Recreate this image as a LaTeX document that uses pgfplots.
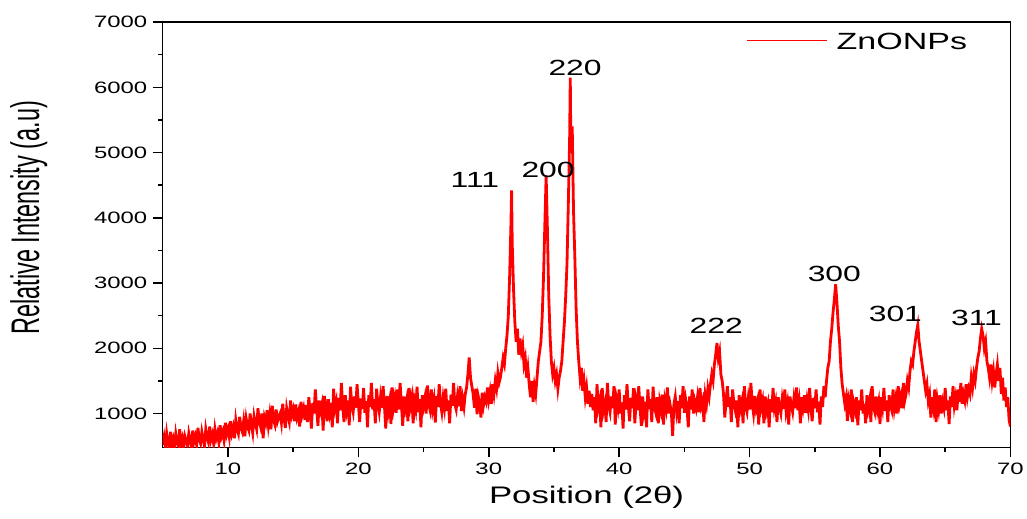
\documentclass[border=0pt]{standalone}
\usepackage{fontspec}
\setmainfont[FakeStretch=1.45]{Liberation Sans}
\newfontfamily\plainsans{Liberation Sans}
\usepackage{pgfplots}
\pgfplotsset{compat=1.18}

\begin{document}
\begin{tikzpicture}
\begin{axis}[
  width=849pt, height=426pt, scale only axis,
  xmin=5, xmax=70, ymin=480, ymax=7000,
  xtick={10,20,...,70}, ytick={1000,2000,...,7000},
  minor x tick num=1, minor y tick num=1,
  tick pos=left, tick align=outside,
  major tick length=10pt, minor tick length=5pt,
  axis line style={line width=1.5pt},
  every tick/.style={black, line width=1.5pt},
  /pgf/number format/assume math mode=true,
  /pgf/number format/1000 sep={},
  tick label style={font=\fontsize{16.5}{18}\selectfont},
  xticklabel style={yshift=-2pt},
  yticklabel style={xshift=-2pt},
  xlabel={Position (2θ)},
  xlabel style={at={(axis description cs:0.5,-0.118)}, anchor=center, font=\fontsize{24}{26}\selectfont},
  ylabel={\scalebox{1}[1.7]{Relative Intensity (a.u)}},
  ylabel style={at={(axis description cs:-0.158,0.54)}, anchor=center, font=\plainsans\fontsize{23.5}{25}\selectfont},
  legend style={at={(axis description cs:0.955,0.985)}, anchor=north east, draw=none, fill=none,
    font=\fontsize{23.5}{26}\selectfont},
  legend image code/.code={},
]
\addplot[red, line width=2.8pt]
coordinates {
(5.0,520) (5.1,640) (5.2,480) (5.3,700) (5.4,560) (5.5,450) (5.6,720) (5.7,530) (5.8,610) (5.9,470)
(6.0,690) (6.1,560) (6.2,500) (6.3,760) (6.4,540) (6.5,620) (6.6,460) (6.7,650) (6.8,580) (6.9,510)
(7.0,700) (7.1,600) (7.2,480) (7.3,740) (7.4,570) (7.5,650) (7.6,520) (7.7,780) (7.8,600) (7.9,540)
(8.0,720) (8.1,610) (8.2,500) (8.3,760) (8.4,640) (8.5,560) (8.6,800) (8.7,600) (8.8,680) (8.9,540)
(9.0,760) (9.1,620) (9.2,700) (9.3,560) (9.4,820) (9.5,650) (9.6,720) (9.7,590) (9.8,860) (9.9,680)
(10.0,760) (10.1,640) (10.2,880) (10.3,700) (10.4,790) (10.5,620) (10.6,900) (10.7,760) (10.8,690) (10.9,950)
(11.0,780) (11.1,720) (11.2,880) (11.3,650) (11.4,920) (11.5,800) (11.6,740) (11.7,1000) (11.8,820) (11.9,700)
(12.0,960) (12.1,850) (12.2,760) (12.3,1080) (12.4,880) (12.5,800) (12.6,1000) (12.7,620) (12.8,940) (12.9,860)
(13.0,1050) (13.1,820) (13.2,980) (13.3,760) (13.4,1120) (13.5,900) (13.6,830) (13.7,1060) (13.8,880) (13.9,950)
(14.0,1000) (14.1,860) (14.2,1150) (14.3,930) (14.4,780) (14.5,1080) (14.6,960) (14.7,870) (14.8,1200) (14.9,980)
(15.0,1060) (15.1,880) (15.2,1140) (15.3,940) (15.4,1020) (15.5,800) (15.6,1180) (15.7,990) (15.8,1080) (15.9,900)
(16.0,1130) (16.1,870) (16.2,1250) (16.3,1040) (16.4,770) (16.5,1160) (16.6,1000) (16.7,1370) (16.8,1080) (16.9,810)
(17.0,1200) (17.1,1050) (17.2,1140) (17.3,740) (17.4,1270) (17.5,1100) (17.6,880) (17.7,1220) (17.8,1020) (17.9,1160)
(18.0,790) (18.1,1380) (18.2,1080) (18.3,1180) (18.4,850) (18.5,1240) (18.6,1050) (18.7,1470) (18.8,1110) (18.9,870)
(19.0,1280) (19.1,1060) (19.2,1200) (19.3,820) (19.4,1410) (19.5,1120) (19.6,1020) (19.7,1260) (19.8,1090) (19.9,1450)
(20.0,1150) (20.1,870) (20.2,1230) (20.3,1070) (20.4,1390) (20.5,1010) (20.6,1190) (20.7,790) (20.8,1280) (20.9,1100)
(21.0,1470) (21.1,1060) (21.2,1220) (21.3,850) (21.4,1380) (21.5,1140) (21.6,1020) (21.7,1250) (21.8,1090) (21.9,1420)
(22.0,1120) (22.1,770) (22.2,1270) (22.3,1040) (22.4,1180) (22.5,840) (22.6,1400) (22.7,1100) (22.8,1230) (22.9,1010)
(23.0,1370) (23.1,1060) (23.2,1470) (23.3,1150) (23.4,810) (23.5,1260) (23.6,1080) (23.7,1200) (23.8,880) (23.9,1390)
(24.0,1130) (24.1,1250) (24.2,850) (24.3,1190) (24.4,1070) (24.5,1410) (24.6,1020) (24.7,1220) (24.8,790) (24.9,1280)
(25.0,1110) (25.1,1230) (25.2,1000) (25.3,1430) (25.4,1140) (25.5,1050) (25.6,1370) (25.7,1080) (25.8,1210) (25.9,860)
(26.0,1270) (26.1,1100) (26.2,1450) (26.3,1150) (26.4,1020) (26.5,1240) (26.6,1090) (26.7,1380) (26.8,1040) (26.9,1200)
(27.0,850) (27.1,1290) (27.2,1120) (27.3,1470) (27.4,1140) (27.5,1060) (27.6,1260) (27.7,1110) (27.8,1420) (27.9,1040)
(28.0,1230) (28.1,1100) (28.2,1300) (28.3,1400) (28.4,1600) (28.5,1860) (28.6,1550) (28.7,1420) (28.8,1300) (28.9,1090)
(29.0,1380) (29.1,990) (29.2,1260) (29.3,1160) (29.4,940) (29.5,1320) (29.6,1130) (29.7,1250) (29.8,1180) (29.9,1400)
(30.0,1210) (30.1,1340) (30.2,1150) (30.3,1450) (30.4,1300) (30.5,1500) (30.6,1380) (30.7,1620) (30.8,1480) (30.9,1560)
(31.0,1700) (31.1,1850) (31.2,1760) (31.3,2000) (31.4,2200) (31.5,2500) (31.6,3100) (31.7,3900) (31.75,4420) (31.8,3600)
(31.9,2900) (32.0,2400) (32.1,2100) (32.2,2300) (32.3,1900) (32.4,2150) (32.5,1950) (32.6,2050) (32.7,1750) (32.8,1850)
(32.9,1550) (33.0,1700) (33.1,1450) (33.2,1250) (33.3,1500) (33.4,1180) (33.5,1420) (33.6,1300) (33.7,1550) (33.8,1800)
(33.9,1950) (34.0,2100) (34.1,2500) (34.2,3100) (34.3,3900) (34.4,4650) (34.5,3800) (34.6,2800) (34.7,2200) (34.8,1800)
(34.9,1600) (35.0,1700) (35.1,1500) (35.2,1600) (35.3,1380) (35.4,1550) (35.5,1650) (35.6,1800) (35.7,2100) (35.8,2400)
(35.9,2800) (36.0,3300) (36.1,4200) (36.2,5200) (36.25,6150) (36.3,5000) (36.4,5400) (36.5,4100) (36.6,3400) (36.7,2600)
(36.8,2100) (36.9,1800) (37.0,1550) (37.1,1700) (37.2,1350) (37.3,1500) (37.4,1250) (37.5,1400) (37.6,1150) (37.7,1350)
(37.8,1100) (37.9,1300) (38.0,1050) (38.1,1250) (38.2,850) (38.3,1450) (38.4,1100) (38.5,1200) (38.6,790) (38.7,1390)
(38.8,1050) (38.9,1150) (39.0,870) (39.1,1470) (39.2,1120) (39.3,1020) (39.4,1260) (39.5,1080) (39.6,1420) (39.7,830)
(39.8,1210) (39.9,1090) (40.0,1370) (40.1,1000) (40.2,1170) (40.3,770) (40.4,1280) (40.5,1060) (40.6,1450) (40.7,1120)
(40.8,880) (40.9,1240) (41.0,1080) (41.1,1390) (41.2,850) (41.3,1190) (41.4,1050) (41.5,1420) (41.6,1100) (41.7,810)
(41.8,1260) (41.9,1030) (42.0,1180) (42.1,790) (42.2,1370) (42.3,1070) (42.4,1220) (42.5,870) (42.6,1410) (42.7,1110)
(42.8,1020) (42.9,1250) (43.0,850) (43.1,1180) (43.2,1060) (43.3,1290) (43.4,830) (43.5,1200) (43.6,1080) (43.7,1400)
(43.8,1000) (43.9,1140) (44.0,1020) (44.1,660) (44.2,1150) (44.3,1260) (44.4,1030) (44.5,1190) (44.6,850) (44.7,1280)
(44.8,1080) (44.9,1420) (45.0,1010) (45.1,1220) (45.2,1100) (45.3,790) (45.4,1260) (45.5,1060) (45.6,1370) (45.7,1000)
(45.8,1180) (45.9,1080) (46.0,1240) (46.1,1020) (46.2,1390) (46.3,1120) (46.4,1200) (46.5,870) (46.6,1280) (46.7,1150)
(46.8,1380) (46.9,1260) (47.0,1450) (47.1,1600) (47.2,1500) (47.3,1750) (47.4,1900) (47.5,2080) (47.6,1850) (47.7,1950)
(47.8,1600) (47.9,1500) (48.0,1300) (48.1,940) (48.2,1200) (48.3,1420) (48.4,1100) (48.5,1250) (48.6,870) (48.7,1370)
(48.8,1150) (48.9,1050) (49.0,1200) (49.1,790) (49.2,1280) (49.3,1080) (49.4,1180) (49.5,850) (49.6,1420) (49.7,1100)
(49.8,1020) (49.9,1230) (50.0,1060) (50.1,1470) (50.2,1150) (50.3,1000) (50.4,1270) (50.5,1080) (50.6,1180) (50.7,830)
(50.8,1370) (50.9,1100) (51.0,1200) (51.1,850) (51.2,1260) (51.3,1050) (51.4,1150) (51.5,790) (51.6,1220) (51.7,1020)
(51.8,1390) (51.9,1080) (52.0,1180) (52.1,870) (52.2,1250) (52.3,1100) (52.4,1000) (52.5,1220) (52.6,1070) (52.7,1370)
(52.8,1040) (52.9,1160) (53.0,830) (53.1,1260) (53.2,1120) (53.3,1020) (53.4,1230) (53.5,1080) (53.6,1400) (53.7,1050)
(53.8,1190) (53.9,850) (54.0,1250) (54.1,1100) (54.2,1280) (54.3,1010) (54.4,1200) (54.5,1060) (54.6,1390) (54.7,1120)
(54.8,880) (54.9,1240) (55.0,1080) (55.1,1370) (55.2,1020) (55.3,1180) (55.4,830) (55.5,1260) (55.6,1100) (55.7,1420)
(55.8,1250) (55.9,1500) (56.0,1700) (56.1,1800) (56.2,2100) (56.3,2300) (56.4,2550) (56.5,2750) (56.6,2980) (56.7,2700)
(56.8,2350) (56.9,2100) (57.0,1700) (57.1,1450) (57.2,1300) (57.3,1150) (57.4,1250) (57.5,890) (57.6,1200) (57.7,1080)
(57.8,1370) (57.9,870) (58.0,1150) (58.1,1050) (58.2,1250) (58.3,820) (58.4,1200) (58.5,1050) (58.6,1370) (58.7,1000)
(58.8,1150) (58.9,850) (59.0,1280) (59.1,1080) (59.2,1200) (59.3,870) (59.4,1420) (59.5,1100) (59.6,1020) (59.7,1260)
(59.8,1060) (59.9,1180) (60.0,840) (60.1,1250) (60.2,1100) (60.3,1390) (60.4,1040) (60.5,1200) (60.6,870) (60.7,1280)
(60.8,1130) (60.9,1050) (61.0,1370) (61.1,1080) (61.2,1220) (61.3,1000) (61.4,1420) (61.5,1150) (61.6,1260) (61.7,1080)
(61.8,1470) (61.9,1200) (62.0,1300) (62.1,1500) (62.2,1400) (62.3,1650) (62.4,1800) (62.5,1750) (62.6,1950) (62.7,2100)
(62.8,2250) (62.9,2360) (63.0,2100) (63.1,1950) (63.2,1800) (63.3,1650) (63.4,1500) (63.5,1350) (63.6,1450) (63.7,1200)
(63.8,1300) (63.9,940) (64.0,1250) (64.1,1100) (64.2,1370) (64.3,870) (64.4,1200) (64.5,1060) (64.6,1280) (64.7,1000)
(64.8,1180) (64.9,1080) (65.0,1390) (65.1,1050) (65.2,1200) (65.3,840) (65.4,1260) (65.5,1100) (65.6,1420) (65.7,1120)
(65.8,1250) (65.9,1050) (66.0,1370) (66.1,1180) (66.2,1470) (66.3,1150) (66.4,1300) (66.5,1200) (66.6,1450) (66.7,1250)
(66.8,1380) (66.9,1300) (67.0,1550) (67.1,1400) (67.2,1600) (67.3,1500) (67.4,1700) (67.5,1850) (67.6,1950) (67.7,2150)
(67.8,2300) (67.9,2200) (68.0,2000) (68.1,2100) (68.2,1800) (68.3,1700) (68.4,1550) (68.5,1750) (68.6,1500) (68.7,1650)
(68.8,1400) (68.9,1600) (69.0,1750) (69.1,1500) (69.2,1700) (69.3,1300) (69.4,1550) (69.5,1200) (69.6,1400) (69.7,1100)
(69.8,1250) (69.9,900) (70.0,800)
};
\addlegendentry{\textcolor{red}{\rule[8pt]{80pt}{1.2pt}}\hspace{10pt}ZnONPs}
\node[font=\fontsize{22}{24}\selectfont] at (axis cs:28.94,4583) {111};
\node[font=\fontsize{22}{24}\selectfont] at (axis cs:34.55,4737) {200};
\node[font=\fontsize{22}{24}\selectfont] at (axis cs:36.62,6300) {220};
\node[font=\fontsize{22}{24}\selectfont] at (axis cs:47.44,2348) {222};
\node[font=\fontsize{22}{24}\selectfont] at (axis cs:56.5,3144) {300};
\node[font=\fontsize{22}{24}\selectfont] at (axis cs:61.18,2531) {301};
\node[font=\fontsize{22}{24}\selectfont] at (axis cs:67.4,2470) {311};
\coordinate (bbA) at (axis description cs:-0.192,1.052);
\coordinate (bbB) at (axis description cs:1.018,-0.167);
\end{axis}
\path (bbA) rectangle (bbB);
\end{tikzpicture}
\end{document}
